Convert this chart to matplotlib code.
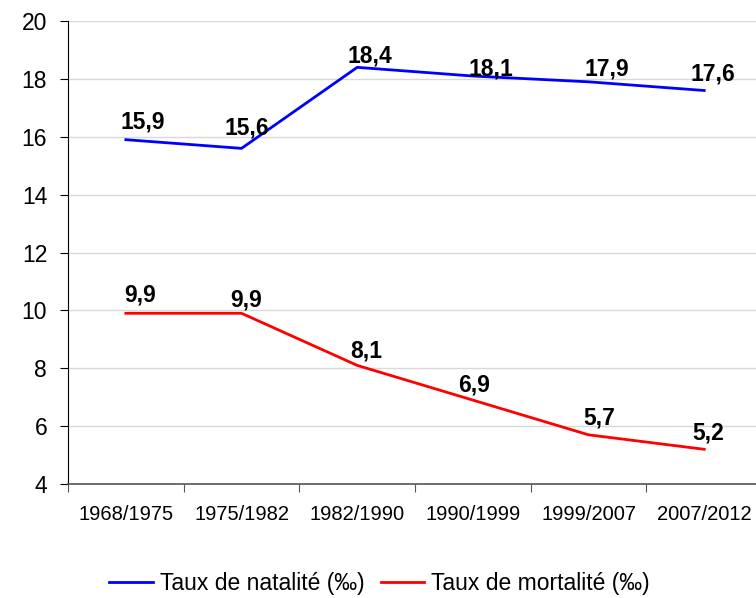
import matplotlib.pyplot as plt

plt.rcParams['font.family'] = ['Liberation Sans', 'DejaVu Sans']

periods = ["1968/1975", "1975/1982", "1982/1990", "1990/1999", "1999/2007", "2007/2012"]
natalite = [15.9, 15.6, 18.4, 18.1, 17.9, 17.6]
mortalite = [9.9, 9.9, 8.1, 6.9, 5.7, 5.2]

# hand-placed label offsets (pixels, relative to each point)
nat_offsets = [(17, 11), (5, 14), (13, 5), (18, 1), (18, 6), (9, 10)]
mort_offsets = [(14, 12), (5, 7), (9, 8), (1, 9), (11, 10), (4, 10)]

fig = plt.figure(figsize=(7.56, 5.98), dpi=100)
ax = fig.add_axes([0.09, 0.1906, 0.918, 0.7742])

x = list(range(len(periods)))
ax.plot(x, natalite, color="#0000ff", lw=2.0, label="Taux de natalité (‰)")
ax.plot(x, mortalite, color="#ff0000", lw=2.0, label="Taux de mortalité (‰)")

# value labels above each point
for vals, offs in [(natalite, nat_offsets), (mortalite, mort_offsets)]:
    for xi, v, off in zip(x, vals, offs):
        ax.annotate(f"{v:.1f}".replace(".", ","), (xi, v), xytext=off, textcoords="offset pixels",
                    ha="center", va="baseline", fontsize=16.5, fontweight="bold")

ax.set_xlim(-0.5, len(periods) - 0.5)
ax.set_ylim(4, 20)
ax.set_yticks(range(4, 21, 2))
ax.set_xticks([i - 0.5 for i in range(len(periods))])
ax.set_xticklabels([])
ax.set_xticks(x, minor=True)
ax.set_xticklabels(periods, minor=True, fontsize=14.5)
ax.tick_params(axis="x", which="minor", length=0, pad=15)
ax.tick_params(axis="x", which="major", length=6, color="#555555")
ax.tick_params(axis="y", labelsize=16.5, length=6, pad=9)

ax.grid(axis="y", color="#d9d9d9", lw=1)
ax.set_axisbelow(True)
for s in ["top", "right"]:
    ax.spines[s].set_visible(False)
ax.spines["left"].set_color("black")
ax.spines["bottom"].set_color("#555555")
ax.spines["bottom"].set_linewidth(1.2)

fig.legend(loc="center", bbox_to_anchor=(0.502, 0.025), ncol=2, frameon=False, fontsize=16.5,
           handlelength=1.9, handletextpad=0.3, columnspacing=0.7)

fig.savefig("out.png", dpi=100)
